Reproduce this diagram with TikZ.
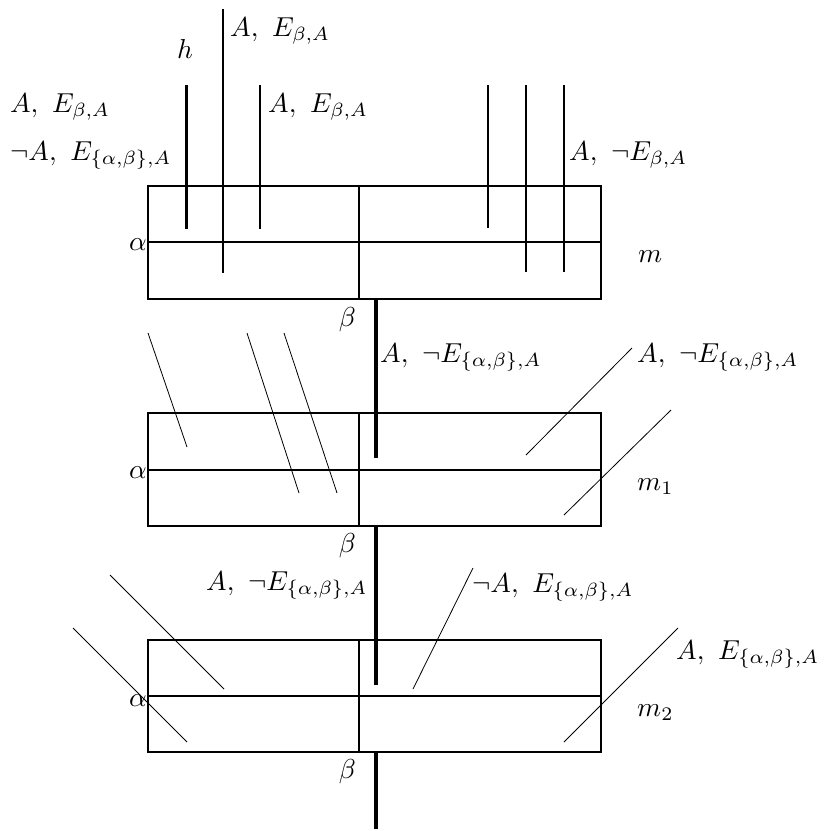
\documentclass[tikz,border=0pt]{standalone}
\usepackage{graphicx}
\newcommand{\lblmath}[1]{\scalebox{2.74}{$#1$}}
\begin{document}
\begin{tikzpicture}[x=1pt,y=-1pt,
  lbl/.style={inner sep=0pt},
  boxline/.style={line width=2pt},
  beam/.style={line width=4pt},
  rod/.style={line width=2pt},
  thinrod/.style={line width=0.8pt}]
\useasboundingbox (0,0) rectangle (825,831);
% boxes
\foreach \t/\m/\b in {186/242/299, 413/470/526, 640/696/752}{
  \draw[boxline] (148,\t) rectangle (601,\b);
  \draw[boxline] (148,\m) -- (601,\m);
  \draw[boxline] (359,\t) -- (359,\b);
}
% beta beams
\draw[beam] (376,299) -- (376,458);
\draw[beam] (376,526) -- (376,685);
\draw[beam] (376,752) -- (376,829);
% top rods
\draw[line width=3pt] (186,85) -- (186,229);
\draw[rod] (223,9) -- (223,273);
\draw[rod] (260,85) -- (260,229);
\draw[rod] (488,85) -- (488,228);
\draw[rod] (526,85) -- (526,272);
\draw[rod] (564,85) -- (564,272);
% m1 diagonals
\draw[thinrod] (148,333) -- (187,447);
\draw[thinrod] (247,333) -- (299,493);
\draw[thinrod] (284,333) -- (337,493);
\draw[thinrod] (632,348) -- (526,455);
\draw[thinrod] (671,410) -- (564,515);
% m2 diagonals
\draw[thinrod] (110,575) -- (224,689);
\draw[thinrod] (73,628) -- (187,742);
\draw[thinrod] (473,568) -- (413,689);
\draw[thinrod] (678,628) -- (564,742);
% labels
\node[lbl,anchor=base west] (t1) at (230,36) {\lblmath{A,\ E_{\beta,A}}};
\node[lbl,anchor=base] (h) at (185,58) {\lblmath{h}};
\node[lbl,anchor=base west] (t2) at (10,112) {\lblmath{A,\ E_{\beta,A}}};
\node[lbl,anchor=base west] (t3) at (10,160) {\lblmath{\neg A,\ E_{\{\alpha,\beta\},A}}};
\node[lbl,anchor=base west] (t4) at (268,112) {\lblmath{A,\ E_{\beta,A}}};
\node[lbl,anchor=base west] (t5) at (569,160) {\lblmath{A,\ \neg E_{\beta,A}}};
\node[lbl,anchor=base west] (mm) at (638,262) {\lblmath{m}};
\node[lbl,anchor=base east] (a0) at (147,250) {\lblmath{\alpha}};
\node[lbl,anchor=base east] (b0) at (356,326) {\lblmath{\beta}};
\node[lbl,anchor=base west] (t6) at (380,362) {\lblmath{A,\ \neg E_{\{\alpha,\beta\},A}}};
\node[lbl,anchor=base west] (t7) at (637,362) {\lblmath{A,\ \neg E_{\{\alpha,\beta\},A}}};
\node[lbl,anchor=base west] (m1) at (637,490) {\lblmath{m_1}};
\node[lbl,anchor=base east] (a1) at (147,478) {\lblmath{\alpha}};
\node[lbl,anchor=base east] (b1) at (356,552) {\lblmath{\beta}};
\node[lbl,anchor=base west] (t8) at (206,590) {\lblmath{A,\ \neg E_{\{\alpha,\beta\},A}}};
\node[lbl,anchor=base west] (t9) at (472,592) {\lblmath{\neg A,\ E_{\{\alpha,\beta\},A}}};
\node[lbl,anchor=base west] (t10) at (676,659) {\lblmath{A,\ E_{\{\alpha,\beta\},A}}};
\node[lbl,anchor=base west] (m2) at (637,716) {\lblmath{m_2}};
\node[lbl,anchor=base east] (a2) at (147,706) {\lblmath{\alpha}};
\node[lbl,anchor=base east] (b2) at (356,778) {\lblmath{\beta}};
\end{tikzpicture}
\end{document}
